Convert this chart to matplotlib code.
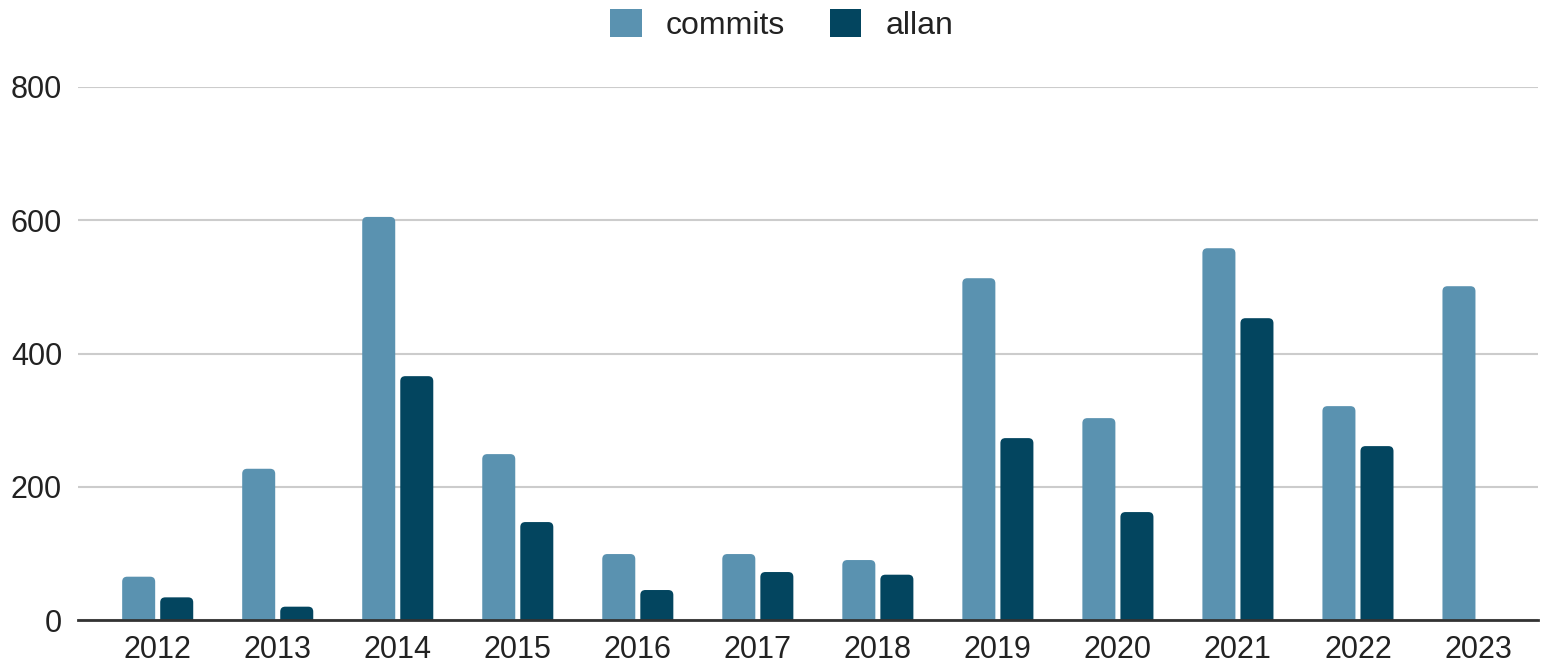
import matplotlib
matplotlib.use("Agg")
import matplotlib.pyplot as plt
from matplotlib.patches import FancyBboxPatch
import numpy as np

years = ["2012", "2013", "2014", "2015", "2016", "2017", "2018", "2019", "2020", "2021", "2022", "2023"]
commits = [65, 227, 605, 249, 99, 99, 90, 513, 303, 558, 321, 501]
allan = [34, 20, 366, 147, 45, 72, 68, 273, 162, 453, 261, 0]
series_names = ["commits", "allan"]
y_ticks = [0, 200, 400, 600, 800]

plt.rcParams['font.family'] = ['Liberation Sans', 'DejaVu Sans']

W, H = 1552, 665
fig = plt.figure(figsize=(W/100, H/100), dpi=100)
ax_l, ax_r, ax_b, ax_t = 78, 1538, 620, 87
ax = fig.add_axes([ax_l/W, 1 - ax_b/H, (ax_r-ax_l)/W, (ax_b-ax_t)/H])

x = np.arange(len(years))
w = 0.275
gap = 0.042
c1 = "#5a92b0"
c2 = "#03455f"
xlim = (-0.664, 11.50)
ylim = (0, 800)
ax.set_xlim(*xlim)
ax.set_ylim(*ylim)

b1 = ax.bar(x - (w + gap)/2, commits, width=w, color=c1, label=series_names[0], zorder=3)
b2 = ax.bar(x + (w + gap)/2, allan, width=w, color=c2, label=series_names[1], zorder=3)

# round the top corners: replace each drawn bar with a rounded patch of the same bounds
px_x = (xlim[1]-xlim[0]) / (ax_r-ax_l)
px_y = (ylim[1]-ylim[0]) / (ax_b-ax_t)
r = 5 * px_x
for cont in (b1, b2):
    for p in cont.patches:
        bx, by, bw, bh = p.get_x(), p.get_y(), p.get_width(), p.get_height()
        p.set_visible(False)
        if bh <= 0:
            continue
        ext = 10 * px_y
        fp = FancyBboxPatch((bx, by - ext), bw, bh + ext,
                            boxstyle=f"round,pad=0,rounding_size={r}",
                            mutation_aspect=px_y/px_x,
                            facecolor=p.get_facecolor(), edgecolor="none", zorder=3)
        fp.set_clip_path(ax.patch)
        ax.add_patch(fp)

ax.set_yticks(y_ticks)
ax.set_yticklabels([str(v) for v in y_ticks])
ax.set_xticks(x)
ax.set_xticklabels(years)
ax.yaxis.grid(True, color="#cccccc", linewidth=1.5, zorder=0)
ax.set_axisbelow(True)
for s in ["top", "right", "left"]:
    ax.spines[s].set_visible(False)
ax.spines["bottom"].set_color("#333333")
ax.spines["bottom"].set_linewidth(2)
ax.spines["bottom"].set_zorder(4)
ax.tick_params(axis="both", length=0, labelsize=22, labelcolor="#222222")
ax.tick_params(axis="x", pad=11)
ax.tick_params(axis="y", pad=11.5)

leg = fig.legend(handles=[b1, b2], labels=series_names, loc="center",
                 bbox_to_anchor=(781.5/W, 1 - 25/H), ncol=2, frameon=False,
                 fontsize=23, handlelength=1.0, handleheight=1.0, columnspacing=1.4,
                 handletextpad=0.75, borderpad=0, borderaxespad=0)
for t in leg.get_texts():
    t.set_color("#222222")
for h, c in zip(leg.legend_handles, (c1, c2)):
    h.set_visible(True)
    h.set_facecolor(c)

fig.savefig("out.png", dpi=100)
